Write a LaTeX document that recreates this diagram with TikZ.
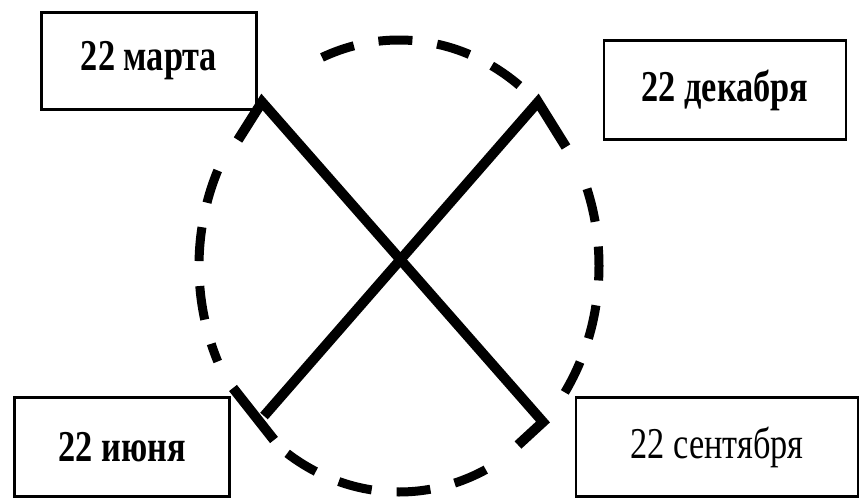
\documentclass[tikz,border=0pt]{standalone}
\usepackage{fontspec}
\newfontfamily\datefont{Liberation Serif}[FakeStretch=0.78]
\usepackage{tikz}

\begin{document}
\begin{tikzpicture}[x=1pt, y=-1pt,
    datebox/.style = {draw, line width=2.5pt, inner sep=0pt,
                      font=\datefont\fontsize{44}{48}\selectfont},
    cross/.style = {line width=10pt, line join=miter},
    orbit/.style = {line width=9pt, dash pattern=on 34pt off 25pt}]
    \useasboundingbox (0,0) rectangle (862,500);
    % the four dates
    \node[datebox, minimum width=215pt, minimum height=97pt] (mar) at (149,61) {\bfseries 22 марта};
    \node[datebox, minimum width=242pt, minimum height=99pt] (dec) at (725,90) {\bfseries 22 декабря};
    \node[datebox, minimum width=215pt, minimum height=99pt] (jun) at (122,447) {\bfseries 22 июня};
    \node[datebox, minimum width=282pt, minimum height=99pt] (sep) at (717,447) {22 сентября};
    % dashed orbit, broken where the cross ends
    \coordinate (o) at (399,266);
    \foreach \a/\b in {53/113, 155/205, 236/302, 326/385} {
        \draw[orbit] ([shift={(\a:200pt and 226pt)}]o) arc[start angle=\a, end angle=\b, x radius=200pt, y radius=226pt];
    }
    % the cross
    \coordinate (marTick) at (238,140);
    \coordinate (marEnd) at (262,102);
    \coordinate (sepEnd) at (543,422);
    \coordinate (sepTick) at (518,445);
    \coordinate (decTick) at (566,147);
    \coordinate (decEnd) at (538,102);
    \coordinate (junEnd) at (264,416);
    \coordinate (junTickA) at (233,388);
    \coordinate (junTickB) at (274,440);
    \draw[cross] (marTick) -- (marEnd) -- (sepEnd) -- (sepTick);
    \draw[cross] (decTick) -- (decEnd) -- (junEnd);
    \draw[cross] (junTickA) -- (junTickB);
\end{tikzpicture}
\end{document}
